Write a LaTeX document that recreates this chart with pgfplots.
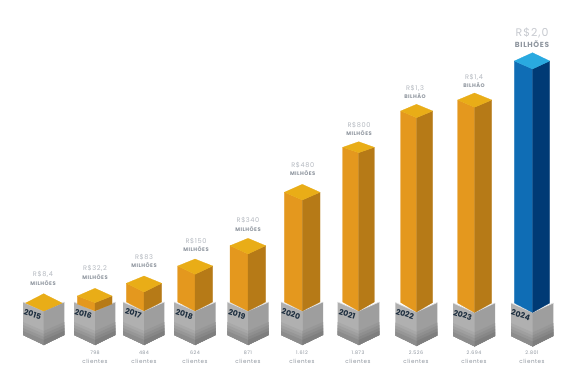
\documentclass[border=0pt]{standalone}
\usepackage{fontspec}
\setmainfont{Poppins}
\newfontfamily\spaced[LetterSpace=9]{Poppins}
\usepackage{pgfplots}
\pgfplotsset{compat=1.18}
\definecolor{goldT}{HTML}{E9AD17}
\definecolor{goldL}{HTML}{E4981E}
\definecolor{goldR}{HTML}{B67A17}
\definecolor{blueT}{HTML}{29A9E0}
\definecolor{blueL}{HTML}{0F6DB5}
\definecolor{blueR}{HTML}{003A75}
\definecolor{navy}{HTML}{1E2F40}
\definecolor{valtxt}{HTML}{B4B9C0}
\definecolor{subtxt}{HTML}{8E959E}
% cx xl xr ytop yside yfront ysideBottom yfrontBottom  T L R
\newcommand\isobar[9]{%
  \addplot[draw=#9L,line width=0.2pt,fill=#9L,forget plot] coordinates {(#2,#5)(#1,#6)(#1,#8)(#2,#7)} -- cycle;
  \addplot[draw=#9R,line width=0.2pt,fill=#9R,forget plot] coordinates {(#3,#5)(#1,#6)(#1,#8)(#3,#7)} -- cycle;
  \addplot[draw=#9T,line width=0.2pt,fill=#9T,forget plot] coordinates {(#1,#4)(#3,#5)(#1,#6)(#2,#5)} -- cycle;
}
% xl cx xr yside yfront colour from
\newcommand\band[7]{%
  \addplot[draw=none,fill=#6,forget plot] coordinates {(#1,#4+#7)(#2+0.3,#5+#7)(#2+0.3,#5+34)(#1,#4+33)} -- cycle;
  \addplot[draw=none,fill=#6!90!black,forget plot] coordinates {(#3,#4+#7)(#2,#5+#7)(#2,#5+34)(#3,#4+33)} -- cycle;
}
\newcommand\isobase[5]{%
  \band{#1}{#2}{#3}{#4}{#5}{gray!62!white}{0}
  \band{#1}{#2}{#3}{#4}{#5}{gray!68!white}{20}
  \band{#1}{#2}{#3}{#4}{#5}{gray!75!white}{23}
  \band{#1}{#2}{#3}{#4}{#5}{gray!82!white}{26}
  \band{#1}{#2}{#3}{#4}{#5}{gray!90!white}{29}
  \addplot[draw=gray!22!white,line width=0.6pt,forget plot] coordinates {(#1,#4)(#2,#5)(#3,#4)};
}
\newcommand\yr[3]{\node[font=\bfseries\fontsize{7.8}{8}\selectfont,text=navy,rotate=-17,inner sep=0pt] at (axis cs:#1,#2) {#3};}
% cx y1 y2 value unit
\newcommand\val[5]{%
  \node[font=\spaced\fontsize{6.6}{7}\selectfont,text=valtxt,inner sep=0pt] at (axis cs:#1,#2) {#4};
  \node[font=\spaced\bfseries\fontsize{5.2}{6}\selectfont,text=subtxt,inner sep=0pt] at (axis cs:#1,#3) {#5};}
\newcommand\cli[2]{%
  \node[font=\spaced\fontsize{4.8}{6}\selectfont,text=subtxt,inner sep=0pt] at (axis cs:#1,353) {#2};
  \node[font=\spaced\fontsize{5.6}{6}\selectfont,text=subtxt,inner sep=0pt] at (axis cs:#1,361) {clientes};}
\begin{document}
\begin{tikzpicture}
\begin{axis}[scale only axis,width=565bp,height=379bp,xmin=0,xmax=565,ymin=0,ymax=379,y dir=reverse,hide axis,clip=false]
\addplot[draw=none,fill=white,forget plot] coordinates {(0,0)(565,0)(565,379)(0,379)} -- cycle;
% bases
\isobase{23}{43.7}{64.3}{302}{311}
\isobase{74}{95}{115.3}{302}{311}
\isobase{123}{144}{164.3}{302}{311}
\isobase{174}{195}{215.7}{302}{311}
\isobase{227.3}{248}{268.7}{302}{311}
\isobase{281}{302.3}{323}{302}{311}
\isobase{337.7}{358.7}{379.3}{302}{311}
\isobase{395.3}{416.5}{437.3}{302.5}{312}
\isobase{453}{474.5}{495}{303}{312.5}
\isobase{511}{532.5}{553.3}{303}{312.5}
% bars
\isobar{43.7}{25.7}{62}{293.7}{303}{311}{303}{311}{gold}
\isobar{95}{77.3}{112}{288.3}{296}{302.7}{304}{311}{gold}
\isobar{144}{126.3}{161.7}{276}{283.3}{292}{302}{311}{gold}
\isobar{195}{177.7}{212.7}{259}{266}{274.3}{302}{311}{gold}
\isobar{248}{230}{265.7}{238.3}{245.7}{254}{302}{311}{gold}
\isobar{302.3}{284.3}{320}{184.3}{192.3}{200}{302}{311}{gold}
\isobar{358.7}{342.7}{374.3}{141.7}{147.3}{152.7}{302}{311}{gold}
\isobar{416.5}{400.7}{432.7}{104.3}{111}{117.7}{302.5}{312}{gold}
\isobar{474.5}{457.7}{491.7}{93}{100}{107.3}{303}{312.5}{gold}
\isobar{532.5}{514.3}{549.7}{52.7}{61}{69}{303}{312.5}{blue}
% years
\yr{32.7}{314.3}{2015}
\yr{83.3}{314}{2016}
\yr{133.3}{313.3}{2017}
\yr{184.3}{314.3}{2018}
\yr{237}{314.3}{2019}
\yr{291}{314}{2020}
\yr{347.3}{314}{2021}
\yr{405}{314}{2022}
\yr{462.7}{315}{2023}
\yr{520.7}{315}{2024}
% values
\val{43}{274}{283}{R\$8,4}{MILHÕES}
\val{95}{268}{277}{R\$32,2}{MILHÕES}
\val{144}{257}{265}{R\$83}{MILHÕES}
\val{196}{241}{249}{R\$150}{MILHÕES}
\val{248}{220}{229}{R\$340}{MILHÕES}
\val{302.7}{165}{173}{R\$480}{MILHÕES}
\val{359}{125}{133}{R\$800}{MILHÕES}
\val{415}{88}{96}{R\$1,3}{BILHÃO}
\val{474}{77}{85}{R\$1,4}{BILHÃO}
\node[font=\spaced\fontsize{11}{12}\selectfont,text=valtxt!75!white,inner sep=0pt] at (axis cs:532,33) {R\$2,0};
\node[font=\spaced\bfseries\fontsize{7.4}{8}\selectfont,text=subtxt,inner sep=0pt] at (axis cs:532,44) {BILHÕES};
% clients
\cli{95}{798}
\cli{144}{484}
\cli{195}{624}
\cli{248}{871}
\cli{302}{1.612}
\cli{358}{1.873}
\cli{416}{2.526}
\cli{474}{2.694}
\cli{532}{2.801}
\end{axis}
\end{tikzpicture}
\end{document}
